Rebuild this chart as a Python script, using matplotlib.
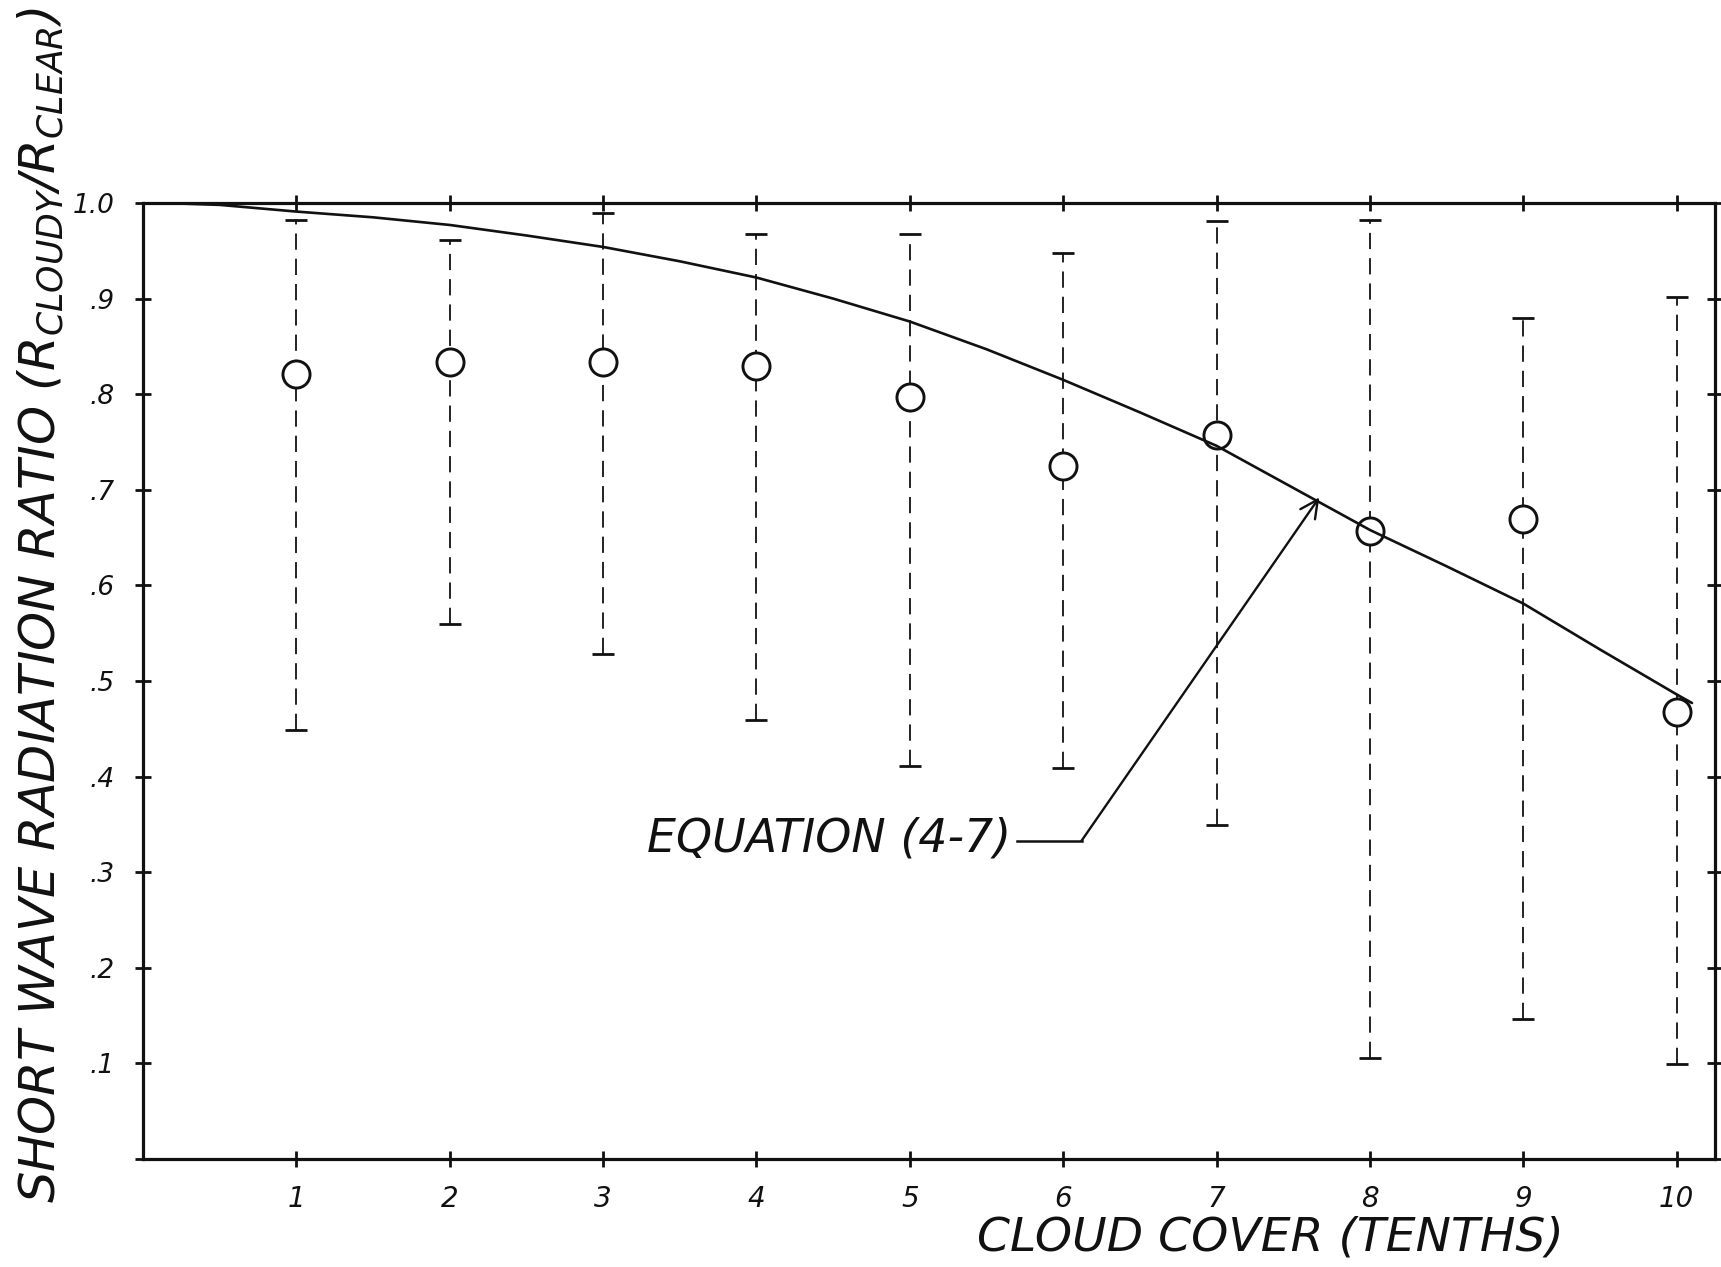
import matplotlib
matplotlib.use("Agg")
import matplotlib.pyplot as plt

# ---------------- data ----------------
cloud_cover = [1, 2, 3, 4, 5, 6, 7, 8, 9, 10]
ratio_mean = [0.821, 0.834, 0.834, 0.829, 0.797, 0.725, 0.757, 0.657, 0.669, 0.468]
ratio_high = [0.982, 0.961, 0.990, 0.968, 0.968, 0.948, 0.981, 0.982, 0.880, 0.902]
ratio_low = [0.449, 0.560, 0.528, 0.459, 0.411, 0.409, 0.349, 0.106, 0.147, 0.099]

# Equation (4-7) curve
curve_x = [0.13, 0.5, 1, 1.5, 2, 2.5, 3, 3.5, 4, 4.5, 5, 5.5, 6, 6.5, 7, 7.5,
           8, 8.5, 9, 9.5, 10, 10.1]
curve_y = [1.000, 0.998, 0.991, 0.985, 0.977, 0.966, 0.954, 0.939, 0.922, 0.900,
           0.876, 0.847, 0.815, 0.781, 0.746, 0.702, 0.658, 0.620, 0.581, 0.533,
           0.486, 0.477]

x_ticks = [1, 2, 3, 4, 5, 6, 7, 8, 9, 10]
x_tick_labels = ["1", "2", "3", "4", "5", "6", "7", "8", "9", "10"]
y_ticks = [0.0, 0.1, 0.2, 0.3, 0.4, 0.5, 0.6, 0.7, 0.8, 0.9, 1.0]
y_tick_labels = ["", ".1", ".2", ".3", ".4", ".5", ".6", ".7", ".8", ".9", "1.0"]

annot_text = "EQUATION (4-7)"
annot_text_xy = (5.66, 0.335)
annot_elbow = (6.12, 0.333)
annot_tip = (7.67, 0.692)

x_label = "CLOUD COVER (TENTHS)"
y_label = r"SHORT WAVE RADIATION RATIO $\mathregular{(R_{CLOUDY}/R_{CLEAR})}$"

# ---------------- style ----------------
plt.rcParams["font.family"] = ["DejaVu Sans"]
plt.rcParams["font.style"] = "italic"

INK = "#111111"

fig = plt.figure(figsize=(17.21, 12.67), dpi=100)
ax = fig.add_axes([0.0831, 0.0852, 0.9134, 0.7546])
ax.set_xlim(0, 10.25)
ax.set_ylim(0, 1.0)

# error bars (dashed) with caps
lower_err = [m - l for m, l in zip(ratio_mean, ratio_low)]
upper_err = [h - m for m, h in zip(ratio_mean, ratio_high)]
eb = ax.errorbar(cloud_cover, ratio_mean, yerr=[lower_err, upper_err], fmt="none",
                 ecolor=INK, elinewidth=1.3, capsize=8, capthick=2.0, zorder=2)
for coll in eb[2]:
    coll.set_linestyle((0, (9, 5)))

# circles
ax.plot(cloud_cover, ratio_mean, linestyle="none", marker="o", ms=19.5,
        mfc="white", mec=INK, mew=2.1, zorder=3)

# equation curve
ax.plot(curve_x, curve_y, color=INK, lw=1.9, zorder=4, solid_capstyle="round",
        solid_joinstyle="round")

# annotation
ax.plot([annot_text_xy[0] + 0.04, annot_elbow[0]], [annot_elbow[1], annot_elbow[1]],
        color=INK, lw=1.8, zorder=4)
ax.annotate("", xy=annot_tip, xytext=annot_elbow,
            arrowprops=dict(arrowstyle="->", lw=1.7, color=INK, shrinkA=0, shrinkB=0,
                            mutation_scale=32), zorder=4)
t_eq = ax.text(annot_text_xy[0], annot_text_xy[1], annot_text, ha="right", va="center",
               fontsize=26, color=INK)

# axes / ticks
for s in ax.spines.values():
    s.set_linewidth(2.3)
    s.set_color(INK)
ax.set_xticks(x_ticks)
ax.set_xticklabels(x_tick_labels)
ax.set_yticks(y_ticks)
ax.set_yticklabels(y_tick_labels)
ax.tick_params(axis="both", direction="inout", length=11, width=2.0, colors=INK,
               top=True, right=True, labelsize=20)
ax.tick_params(axis="x", pad=13)
ax.tick_params(axis="y", pad=15, labelsize=19)

t_x = fig.text(0.738, 0.0225, x_label, ha="center", va="center", fontsize=32, color=INK)
t_y = fig.text(0.0235, 0.5225, y_label, ha="center", va="center", rotation=90,
               fontsize=34, color=INK)

# fit the hand-lettered titles to their measured extents (pixels)
fig.canvas.draw()
r = fig.canvas.get_renderer()
for _ in range(2):
    for t, target, use_h in [(t_y, 1196, True), (t_x, 587, False), (t_eq, 365, False)]:
        bb = t.get_window_extent(r)
        cur = bb.height if use_h else bb.width
        t.set_fontsize(t.get_fontsize() * target / cur)
    fig.canvas.draw()

fig.savefig("out.png", dpi=100, facecolor="white")
